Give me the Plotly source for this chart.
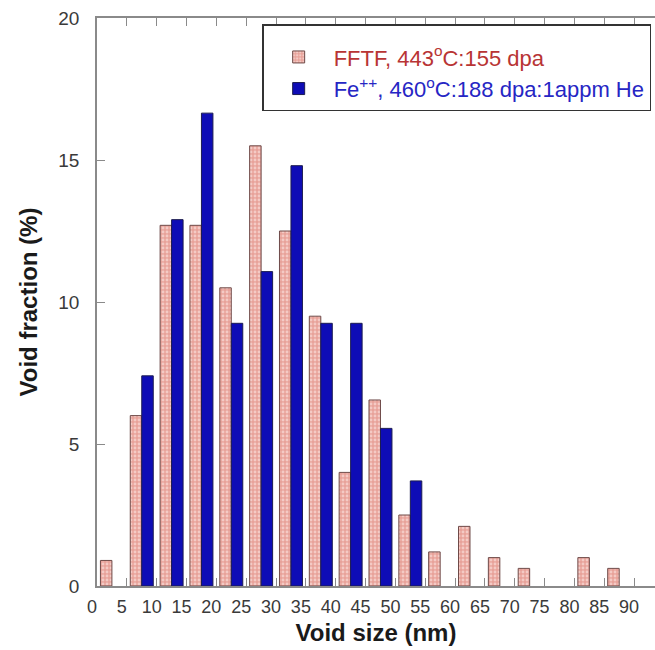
import plotly.graph_objects as go

# Bin centres (nm) and values (%)
bin_centers = [2.5, 7.5, 12.5, 17.5, 22.5, 27.5, 32.5, 37.5, 42.5, 47.5,
               52.5, 57.5, 62.5, 67.5, 72.5, 77.5, 82.5, 87.5]
fftf = [0.9, 6.0, 12.7, 12.7, 10.5, 15.5, 12.5, 9.5, 4.0, 6.55,
        2.5, 1.2, 2.1, 1.0, 0.62, None, 1.0, 0.62]
fe = [None, 7.4, 12.9, 16.65, 9.25, 11.07, 14.8, 9.25, 9.25, 5.55,
      3.7, None, None, None, None, None, None, None]
x_ticks = list(range(0, 95, 5))
y_ticks = [0, 5, 10, 15, 20]

name_fftf = "<span style='color:#b83434'>FFTF, 443<sup>o</sup>C:155 dpa</span>"
name_fe = "<span style='color:#2626c4'>Fe<sup>++</sup>, 460<sup>o</sup>C:188 dpa:1appm He</span>"

fig = go.Figure()
fig.add_trace(go.Bar(
    x=bin_centers, y=fftf, name=name_fftf,
    marker=dict(color="#e8a29a",
                line=dict(color="#6e4a48", width=1),
                pattern=dict(shape=".", bgcolor="#e8a29a", fgcolor="#fff2f0",
                             size=4, solidity=0.4)),
))
fig.add_trace(go.Bar(
    x=bin_centers, y=fe, name=name_fe,
    marker=dict(color="#0e0cb6", line=dict(color="#1c1c50", width=1)),
))

axis_col = "#8a8a8a"
fig.update_layout(
    width=655, height=650,
    margin=dict(l=97, r=0, t=18, b=64),
    paper_bgcolor="white", plot_bgcolor="white",
    barmode="group", bargap=0.23, bargroupgap=0.0,
    font=dict(family="Liberation Sans, Arial, sans-serif", color="#333333"),
    showlegend=True,
    legend=dict(
        x=0.296, y=0.989, xanchor="left", yanchor="top",
        bgcolor="white", bordercolor="#333333", borderwidth=1.5,
        font=dict(size=22, family="Liberation Sans, Arial, sans-serif"),
        itemwidth=60, tracegroupgap=0,
        title=dict(text=" ", font=dict(size=8)),
    ),
    xaxis=dict(
        range=[0, 93.5], tickvals=x_ticks, ticktext=[str(v) for v in x_ticks],
        ticks="inside", ticklen=8, tickcolor=axis_col, tickwidth=1,
        showline=True, linecolor=axis_col, linewidth=1.5, mirror="ticks",
        showgrid=False, zeroline=False,
        tickfont=dict(size=18, color="#3a3a3a"),
        ticklabelshift=-5, ticklabelstandoff=4,
        title=dict(text="<b>Void size (nm)</b>", font=dict(size=24, color="#1a1a1a"),
                   standoff=8),
    ),
    yaxis=dict(
        range=[0, 20], tickvals=y_ticks,
        ticks="inside", ticklen=8, tickcolor=axis_col, tickwidth=1,
        showline=True, linecolor=axis_col, linewidth=1.5, mirror=False,
        showgrid=False, zeroline=False,
        tickfont=dict(size=19, color="#3a3a3a"),
        ticklabelstandoff=12,
        title=dict(text="<b>Void fraction (%)</b>", font=dict(size=24, color="#1a1a1a"),
                   standoff=14),
    ),
)

fig.write_html("out.html")
